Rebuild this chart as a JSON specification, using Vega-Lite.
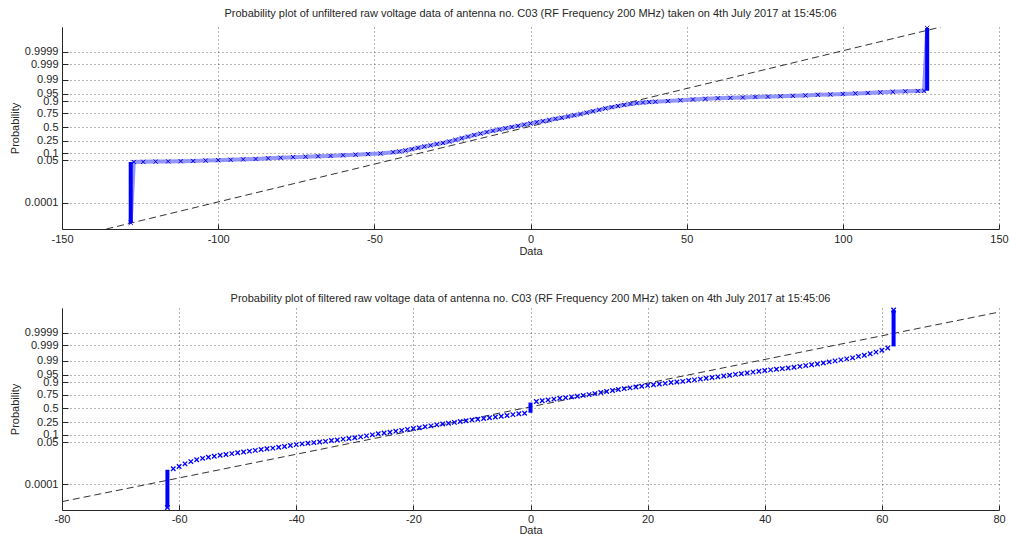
{
  "$schema": "https://vega.github.io/schema/vega-lite/v6.json",
  "padding": {"left": 9, "top": 8, "right": 5, "bottom": 0},
  "background": "white",
  "spacing": 37,
  "config": {
    "font": "Liberation Sans",
    "view": {"stroke": null},
    "axis": {
      "labelFont": "Liberation Sans", "labelFontSize": 11, "labelColor": "#262626",
      "titleFont": "Liberation Sans", "titleFontSize": 11, "titleFontWeight": "normal", "titleColor": "#262626",
      "domainColor": "#262626", "tickColor": "#262626",
      "grid": true, "gridColor": "#444", "gridDash": [1, 3], "gridOpacity": 0.8,
      "labelOverlap": false, "labelBound": false, "labelFlush": false, "tickCount": 30
    },
    "title": {"font": "Liberation Sans", "fontSize": 11, "fontWeight": "normal", "color": "#262626", "offset": 1}
  },
  "datasets": {
    "top_pts": [
      {"x":-128,"z":-4.72},{"x":-127,"z":-1.72},{"x":-124,"z":-1.71},{"x":-120,"z":-1.70},{"x":-116,"z":-1.69},{"x":-112,"z":-1.68},{"x":-108,"z":-1.67},{"x":-104,"z":-1.65},{"x":-100,"z":-1.63},{"x":-96,"z":-1.61},{"x":-92,"z":-1.59},{"x":-88,"z":-1.57},{"x":-84,"z":-1.54},{"x":-80,"z":-1.51},{"x":-76,"z":-1.48},{"x":-72,"z":-1.46},{"x":-68,"z":-1.44},{"x":-64,"z":-1.42},{"x":-60,"z":-1.39},{"x":-56,"z":-1.36},{"x":-52,"z":-1.33},{"x":-48,"z":-1.30},{"x":-44,"z":-1.24},
      {"x":-42,"z":-1.20},{"x":-40,"z":-1.15},{"x":-38,"z":-1.09},{"x":-36,"z":-1.02},{"x":-34,"z":-0.96},{"x":-32,"z":-0.90},{"x":-30,"z":-0.84},{"x":-28,"z":-0.78},{"x":-26,"z":-0.71},{"x":-24,"z":-0.63},{"x":-22,"z":-0.55},{"x":-20,"z":-0.47},{"x":-18,"z":-0.39},{"x":-16,"z":-0.32},{"x":-14,"z":-0.25},{"x":-12,"z":-0.18},{"x":-10,"z":-0.12},{"x":-8,"z":-0.06},{"x":-6,"z":0.00},{"x":-4,"z":0.06},{"x":-2,"z":0.12},{"x":0,"z":0.18},{"x":2,"z":0.24},{"x":4,"z":0.29},{"x":6,"z":0.35},{"x":8,"z":0.41},{"x":10,"z":0.46},{"x":12,"z":0.52},{"x":14,"z":0.58},{"x":16,"z":0.64},{"x":18,"z":0.71},{"x":20,"z":0.78},{"x":22,"z":0.85},{"x":24,"z":0.92},{"x":26,"z":0.98},{"x":28,"z":1.04},{"x":30,"z":1.09},{"x":32,"z":1.14},{"x":34,"z":1.18},{"x":36,"z":1.21},{"x":38,"z":1.23},{"x":40,"z":1.25},
      {"x":44,"z":1.28},{"x":48,"z":1.32},{"x":52,"z":1.36},{"x":56,"z":1.39},{"x":60,"z":1.42},{"x":64,"z":1.44},{"x":68,"z":1.46},{"x":72,"z":1.48},{"x":76,"z":1.50},{"x":80,"z":1.52},{"x":84,"z":1.54},{"x":88,"z":1.56},{"x":92,"z":1.59},{"x":96,"z":1.61},{"x":100,"z":1.63},{"x":104,"z":1.66},{"x":108,"z":1.68},{"x":112,"z":1.71},{"x":116,"z":1.74},{"x":120,"z":1.76},{"x":124,"z":1.78},{"x":126,"z":1.79},{"x":127,"z":4.88}
    ],
    "top_stacks": [
      {"x":-128,"z":-4.72,"z2":-1.72},
      {"x":127,"z":1.79,"z2":4.88}
    ],
    "top_ref": [
      {"x":-135.8,"z":-5.02},{"x":131.4,"z":4.93}
    ],
    "bot_pts": [
      {"x":-62,"z":-4.85},{"x":-61,"z":-2.95},{"x":-60,"z":-2.84},{"x":-59,"z":-2.71},{"x":-58,"z":-2.60},{"x":-57,"z":-2.51},{"x":-56,"z":-2.44},{"x":-55,"z":-2.39},{"x":-54,"z":-2.34},{"x":-53,"z":-2.29},{"x":-52,"z":-2.25},{"x":-51,"z":-2.21},{"x":-50,"z":-2.17},{"x":-49,"z":-2.13},{"x":-48,"z":-2.09},{"x":-47,"z":-2.05},{"x":-46,"z":-2.01},{"x":-45,"z":-1.97},{"x":-44,"z":-1.94},{"x":-43,"z":-1.90},{"x":-42,"z":-1.86},{"x":-41,"z":-1.81},{"x":-40,"z":-1.77},{"x":-39,"z":-1.73},{"x":-38,"z":-1.70},{"x":-37,"z":-1.67},{"x":-36,"z":-1.64},{"x":-35,"z":-1.61},{"x":-34,"z":-1.57},{"x":-33,"z":-1.54},{"x":-32,"z":-1.50},{"x":-31,"z":-1.47},{"x":-30,"z":-1.43},{"x":-29,"z":-1.39},{"x":-28,"z":-1.34},{"x":-27,"z":-1.29},{"x":-26,"z":-1.24},{"x":-25,"z":-1.20},{"x":-24,"z":-1.16},{"x":-23,"z":-1.11},{"x":-22,"z":-1.07},{"x":-21,"z":-1.02},{"x":-20,"z":-0.98},{"x":-19,"z":-0.94},{"x":-18,"z":-0.89},{"x":-17,"z":-0.85},{"x":-16,"z":-0.80},{"x":-15,"z":-0.76},{"x":-14,"z":-0.72},{"x":-13,"z":-0.68},{"x":-12,"z":-0.64},{"x":-11,"z":-0.60},{"x":-10,"z":-0.56},{"x":-9,"z":-0.53},{"x":-8,"z":-0.49},{"x":-7,"z":-0.45},{"x":-6,"z":-0.42},{"x":-5,"z":-0.38},{"x":-4,"z":-0.34},{"x":-3,"z":-0.30},{"x":-2,"z":-0.26},{"x":-1,"z":-0.23},
      {"x":1,"z":0.34},{"x":2,"z":0.38},{"x":3,"z":0.42},{"x":4,"z":0.46},{"x":5,"z":0.50},{"x":6,"z":0.53},{"x":7,"z":0.57},{"x":8,"z":0.60},{"x":9,"z":0.64},{"x":10,"z":0.68},{"x":11,"z":0.73},{"x":12,"z":0.78},{"x":13,"z":0.83},{"x":14,"z":0.88},{"x":15,"z":0.93},{"x":16,"z":0.97},{"x":17,"z":1.01},{"x":18,"z":1.05},{"x":19,"z":1.09},{"x":20,"z":1.13},{"x":21,"z":1.16},{"x":22,"z":1.20},{"x":23,"z":1.23},{"x":24,"z":1.27},{"x":25,"z":1.30},{"x":26,"z":1.33},{"x":27,"z":1.37},{"x":28,"z":1.40},{"x":29,"z":1.44},{"x":30,"z":1.48},{"x":31,"z":1.52},{"x":32,"z":1.55},{"x":33,"z":1.59},{"x":34,"z":1.63},{"x":35,"z":1.67},{"x":36,"z":1.70},{"x":37,"z":1.74},{"x":38,"z":1.78},{"x":39,"z":1.82},{"x":40,"z":1.86},{"x":41,"z":1.89},{"x":42,"z":1.92},{"x":43,"z":1.95},{"x":44,"z":1.98},{"x":45,"z":2.02},{"x":46,"z":2.06},{"x":47,"z":2.10},{"x":48,"z":2.14},{"x":49,"z":2.18},{"x":50,"z":2.23},{"x":51,"z":2.28},{"x":52,"z":2.33},{"x":53,"z":2.38},{"x":54,"z":2.43},{"x":55,"z":2.48},{"x":56,"z":2.55},{"x":57,"z":2.61},{"x":58,"z":2.68},{"x":59,"z":2.76},{"x":60,"z":2.85},{"x":61,"z":2.96},{"x":62,"z":4.82}
    ],
    "bot_stacks": [
      {"x":-62,"z":-4.85,"z2":-3.0},
      {"x":0,"z":-0.21,"z2":0.29},
      {"x":62,"z":3.04,"z2":4.82}
    ],
    "bot_ref": [
      {"x":-80,"z":-4.56},{"x":80,"z":4.72}
    ]
  },
  "vconcat": [
    {
      "width": 937, "height": 202,
      "title": "Probability plot of unfiltered raw voltage data of antenna no. C03 (RF Frequency 200 MHz) taken on 4th July 2017 at 15:45:06",
      "layer": [
        {
          "data": {"name": "top_ref"},
          "mark": {"type": "line", "color": "#333", "strokeWidth": 1, "strokeDash": [7, 4], "clip": true},
          "encoding": {
            "x": {"field": "x", "type": "quantitative", "scale": {"domain": [-150, 150], "nice": false, "zero": false},
              "axis": {"values": [-150, -100, -50, 0, 50, 100, 150], "title": "Data", "labelExpr": "toString(datum.value)", "tickSize": -5, "labelPadding": 9, "titlePadding": 1, "labelOverlap": false, "tickCount": 30}},
            "y": {"field": "z", "type": "quantitative", "scale": {"domain": [-5.02, 4.93], "nice": false, "zero": false},
              "axis": {"values": [-3.719, -1.645, -1.2816, -0.6745, 0, 0.6745, 1.2816, 1.645, 2.326, 3.09, 3.719], "title": "Probability", "tickSize": -6, "labelPadding": 10, "titlePadding": 4, "labelOverlap": false, "tickCount": 30,
                "labelExpr": "datum.value < -3 ? '0.0001' : datum.value < -1.5 ? '0.05' : datum.value < -1 ? '0.1' : datum.value < -0.5 ? '0.25' : datum.value < 0.5 ? '0.5' : datum.value < 1 ? '0.75' : datum.value < 1.5 ? '0.9' : datum.value < 2 ? '0.95' : datum.value < 2.7 ? '0.99' : datum.value < 3.4 ? '0.999' : '0.9999'"}}
          }
        },
        {
          "data": {"name": "top_pts"},
          "mark": {"type": "line", "color": "#7b7bff", "strokeWidth": 4, "opacity": 0.8},
          "encoding": {"x": {"field": "x", "type": "quantitative"}, "y": {"field": "z", "type": "quantitative"}, "order": {"field": "x"}}
        },
        {
          "data": {"name": "top_stacks"},
          "mark": {"type": "rule", "color": "#0000ff", "strokeWidth": 4},
          "encoding": {"x": {"field": "x", "type": "quantitative"}, "y": {"field": "z", "type": "quantitative"}, "y2": {"field": "z2"}}
        },
        {
          "data": {"name": "top_pts"},
          "mark": {"type": "point", "shape": "M-1,-1L1,1M1,-1L-1,1", "filled": false, "color": "#0000ee", "strokeWidth": 1, "size": 18, "opacity": 1},
          "encoding": {"x": {"field": "x", "type": "quantitative"}, "y": {"field": "z", "type": "quantitative"}}
        }
      ]
    },
    {
      "width": 937, "height": 202,
      "title": "Probability plot of filtered raw voltage data of antenna no. C03 (RF Frequency 200 MHz) taken on 4th July 2017 at 15:45:06",
      "layer": [
        {
          "data": {"name": "bot_ref"},
          "mark": {"type": "line", "color": "#333", "strokeWidth": 1, "strokeDash": [7, 4], "clip": true},
          "encoding": {
            "x": {"field": "x", "type": "quantitative", "scale": {"domain": [-80, 80], "nice": false, "zero": false},
              "axis": {"values": [-80, -60, -40, -20, 0, 20, 40, 60, 80], "title": "Data", "labelExpr": "toString(datum.value)", "tickSize": -5, "labelPadding": 8, "titlePadding": 0, "labelOverlap": false, "tickCount": 30}},
            "y": {"field": "z", "type": "quantitative", "scale": {"domain": [-4.97, 4.92], "nice": false, "zero": false},
              "axis": {"values": [-3.719, -1.645, -1.2816, -0.6745, 0, 0.6745, 1.2816, 1.645, 2.326, 3.09, 3.719], "title": "Probability", "tickSize": -6, "labelPadding": 10, "titlePadding": 4, "labelOverlap": false, "tickCount": 30,
                "labelExpr": "datum.value < -3 ? '0.0001' : datum.value < -1.5 ? '0.05' : datum.value < -1 ? '0.1' : datum.value < -0.5 ? '0.25' : datum.value < 0.5 ? '0.5' : datum.value < 1 ? '0.75' : datum.value < 1.5 ? '0.9' : datum.value < 2 ? '0.95' : datum.value < 2.7 ? '0.99' : datum.value < 3.4 ? '0.999' : '0.9999'"}}
          }
        },
        {
          "data": {"name": "bot_stacks"},
          "mark": {"type": "rule", "color": "#0000ff", "strokeWidth": 4},
          "encoding": {"x": {"field": "x", "type": "quantitative"}, "y": {"field": "z", "type": "quantitative"}, "y2": {"field": "z2"}}
        },
        {
          "data": {"name": "bot_pts"},
          "mark": {"type": "point", "shape": "M-1,-1L1,1M1,-1L-1,1", "filled": false, "color": "#0000ff", "strokeWidth": 1.3, "size": 20, "opacity": 1},
          "encoding": {"x": {"field": "x", "type": "quantitative"}, "y": {"field": "z", "type": "quantitative"}}
        }
      ]
    }
  ]
}
